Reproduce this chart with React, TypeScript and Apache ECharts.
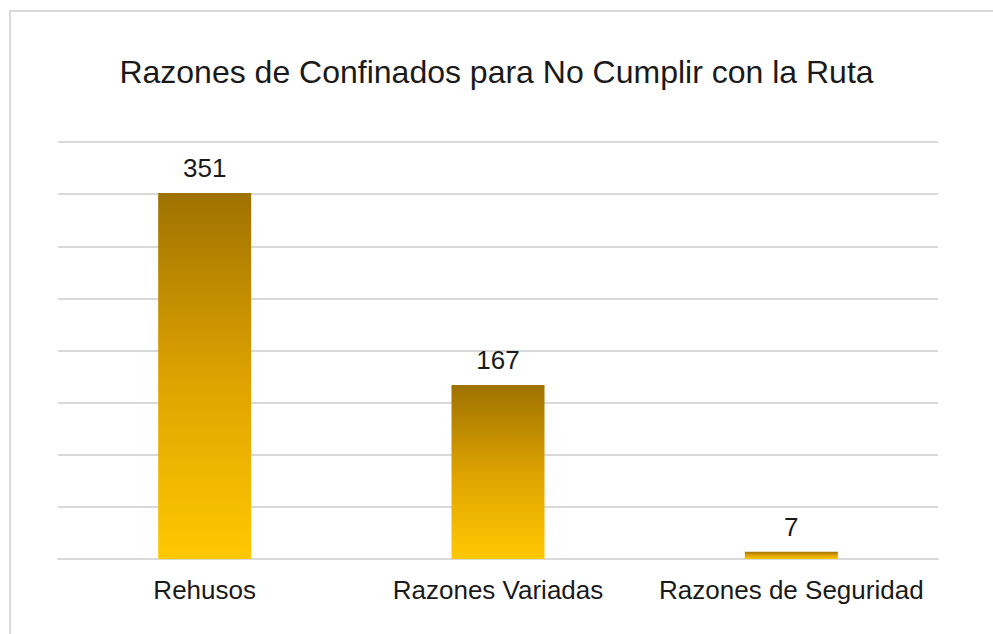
import React, { useEffect, useRef } from "react";
import * as echarts from "echarts";

const categories = ["Rehusos", "Razones Variadas", "Razones de Seguridad"];
const values = [351, 167, 7];
const titleText = "Razones de Confinados para No Cumplir con la Ruta";

export default function App() {
  const ref = useRef<HTMLDivElement>(null);
  useEffect(() => {
    if (!ref.current) return;
    const chart = echarts.init(ref.current, undefined, { renderer: "svg" });
    chart.setOption({
      animation: false,
      backgroundColor: "#ffffff",
      title: {
        text: titleText,
        left: "center",
        top: 51,
        textStyle: {
          fontFamily: "Liberation Sans, Arial, sans-serif",
          fontSize: 32,
          fontWeight: "normal",
          color: "#1a1a1a",
        },
      },
      graphic: [
        {
          type: "rect",
          shape: { x: 10, y: 11, width: 1100, height: 800 },
          style: { fill: "none", stroke: "#d9d9d9", lineWidth: 2 },
          silent: true,
        },
      ],
      grid: { left: 58, right: 55, top: 142, bottom: 75 },
      xAxis: {
        type: "category",
        data: categories,
        axisLine: { lineStyle: { color: "#d9d9d9", width: 2 } },
        axisTick: { show: false },
        axisLabel: {
          interval: 0,
          hideOverlap: false,
          margin: 18,
          fontFamily: "Liberation Sans, Arial, sans-serif",
          fontSize: 26,
          color: "#1a1a1a",
        },
      },
      yAxis: {
        type: "value",
        min: 0,
        max: 400,
        interval: 50,
        axisLabel: { show: false },
        axisLine: { show: false },
        axisTick: { show: false },
        splitLine: { lineStyle: { color: "#d9d9d9", width: 2 } },
      },
      series: [
        {
          type: "bar",
          data: values,
          barWidth: 93,
          itemStyle: {
            color: new echarts.graphic.LinearGradient(0, 0, 0, 1, [
              { offset: 0, color: "#9e7200" },
              { offset: 0.5, color: "#dda200" },
              { offset: 1, color: "#ffc800" },
            ]),
          },
          label: {
            show: true,
            position: "top",
            distance: 12,
            fontFamily: "Liberation Sans, Arial, sans-serif",
            fontSize: 26,
            color: "#1a1a1a",
          },
        },
      ],
    });
    return () => chart.dispose();
  }, []);
  return (
    <div
      ref={ref}
      style={{ position: "absolute", left: 0, top: 0, width: 993, height: 634 }}
    />
  );
}
